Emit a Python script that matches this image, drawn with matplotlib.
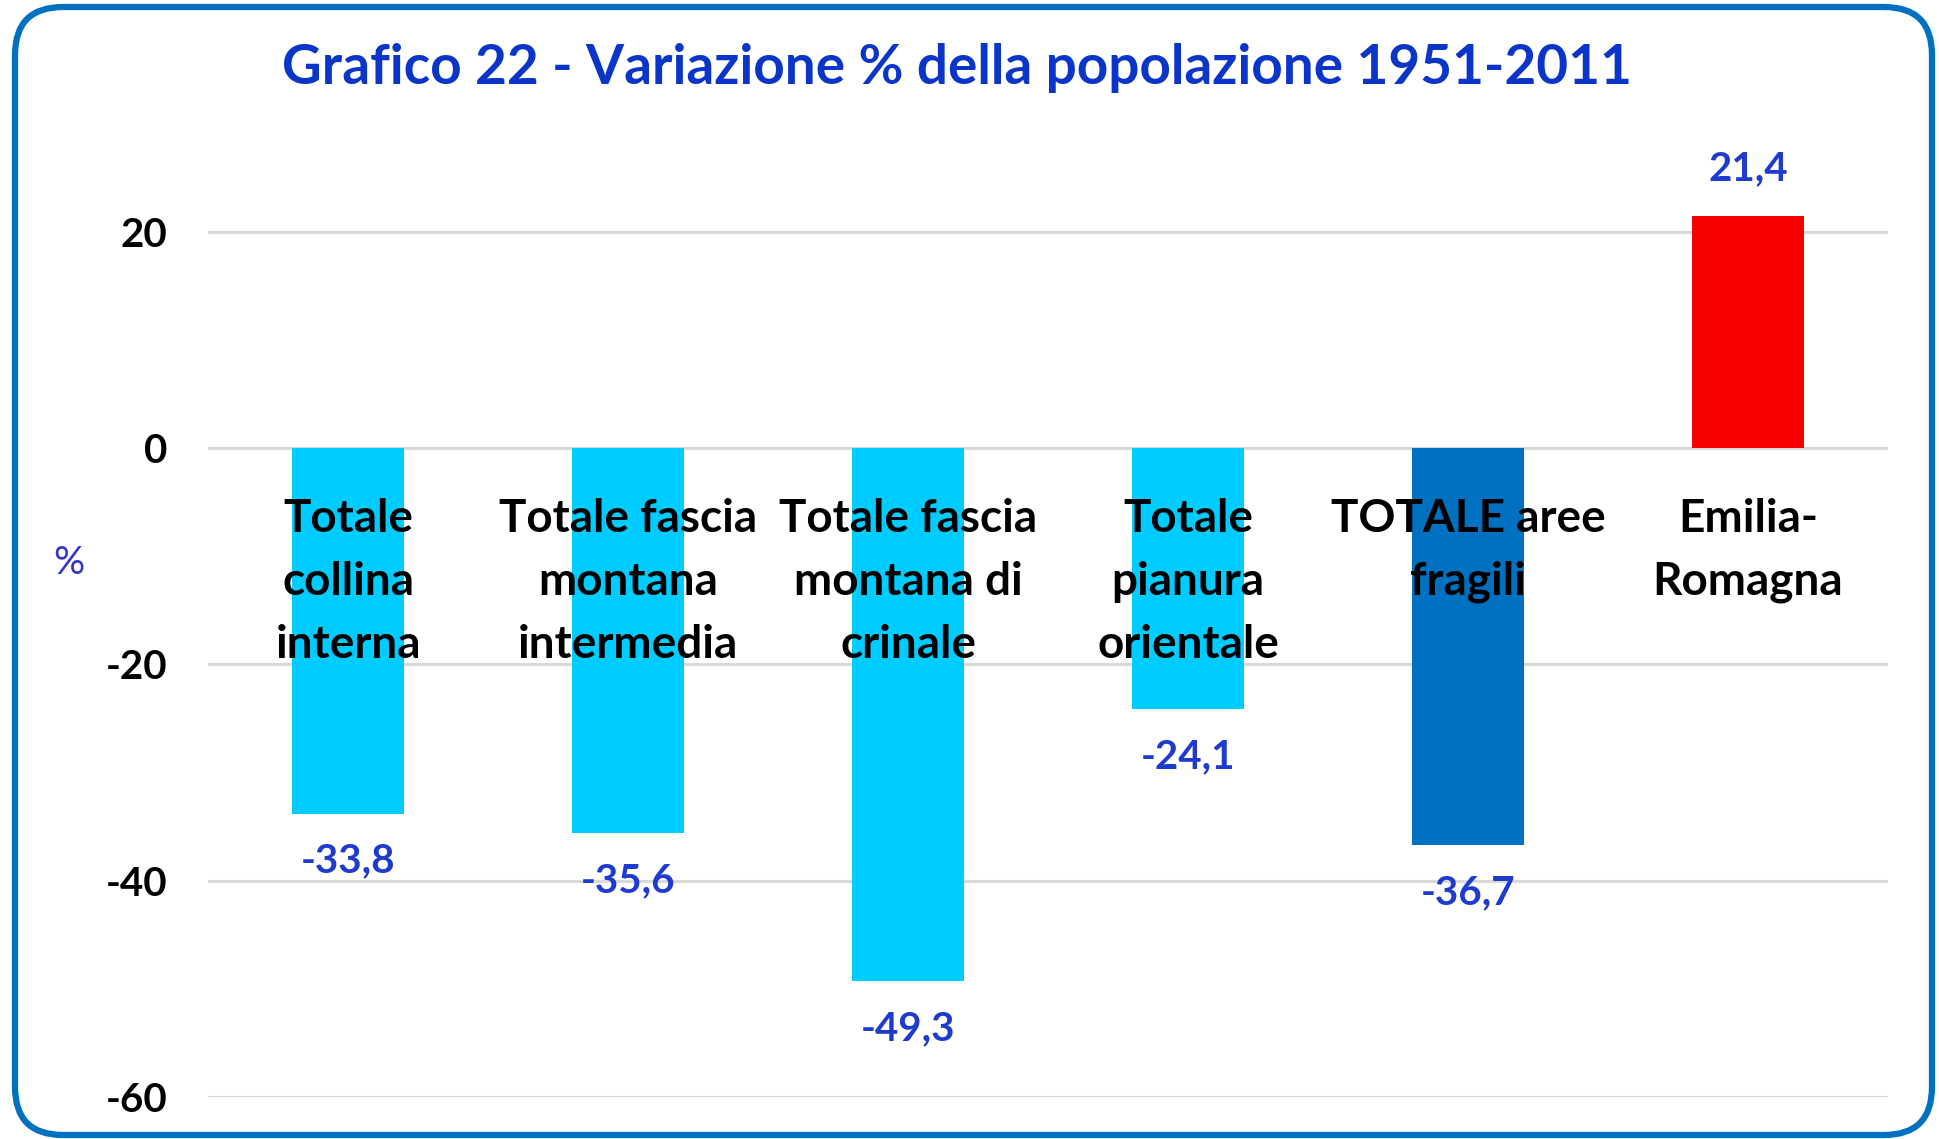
import matplotlib
matplotlib.use("Agg")
import matplotlib.pyplot as plt
from matplotlib.patches import FancyBboxPatch

plt.rcParams["font.family"] = ["Lato", "DejaVu Sans"]

# data
categories = [
    "Totale\ncollina\ninterna",
    "Totale fascia\nmontana\nintermedia",
    "Totale fascia\nmontana di\ncrinale",
    "Totale\npianura\norientale",
    "TOTALE aree\nfragili",
    "Emilia-\nRomagna",
]
values = [-33.8, -35.6, -49.3, -24.1, -36.7, 21.4]
bar_colors = ["#00CCFF", "#00CCFF", "#00CCFF", "#00CCFF", "#0070C0", "#F70000"]
yticks = [-60, -40, -20, 0, 20]

W, H = 1939, 1139
fig = plt.figure(figsize=(W / 100, H / 100), dpi=100)
fig.patch.set_facecolor("white")

# rounded frame drawn in pixel space
bg = fig.add_axes([0, 0, 1, 1], zorder=-1)
bg.set_xlim(0, W)
bg.set_ylim(H, 0)
bg.axis("off")
bg.add_patch(FancyBboxPatch((15, 7), 1917, 1128,
                            boxstyle="round,pad=0,rounding_size=48",
                            fc="white", ec="#0070C0", lw=4.5))

ax = fig.add_axes([208 / W, 0.0369, 1680 / W, 0.8548])
x = range(len(categories))
bars = ax.bar(x, values, width=0.4, color=bar_colors, zorder=2)

ax.set_xlim(-0.5, len(categories) - 0.5)
ax.set_ylim(-60, 30)
ax.set_yticks(yticks)
ax.set_yticklabels([str(v) for v in yticks], fontsize=29, fontweight="bold")
ax.tick_params(axis="y", length=0, pad=29)
ax.yaxis.grid(True, color="#D9D9D9", lw=2.2)
ax.set_axisbelow(True)

# category labels sit just under the zero line, over the bars
ax.spines["bottom"].set_position(("data", 0))
ax.set_xticks(list(x))
ax.set_xticklabels(categories, fontsize=33, fontweight="bold", linespacing=1.62)
ax.tick_params(axis="x", length=0, pad=36)
ax.xaxis.set_zorder(3)
for s in ax.spines.values():
    s.set_visible(False)

ax.set_ylabel("%", rotation=0, fontsize=28, color="#3535CC")
ax.yaxis.set_label_coords(-0.083, 0.530)

ax.bar_label(bars, labels=[f"{v:.1f}".replace(".", ",") for v in values],
             padding=21, fontsize=29, fontweight="bold", color="#1F3BCF")

fig.text(957 / W, 1 - 68 / H,
         "Grafico 22 - Variazione % della popolazione 1951-2011",
         ha="center", va="center", fontsize=39.5, fontweight="bold",
         color="#0A35C8")

fig.savefig("out.png", dpi=100, facecolor="white")
